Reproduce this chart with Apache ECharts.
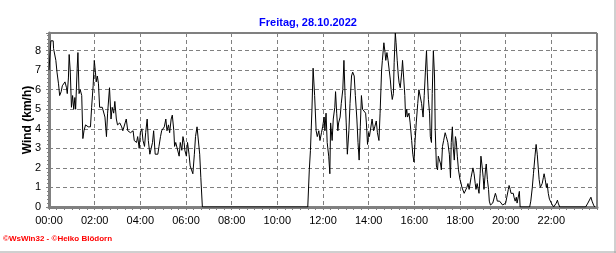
<!DOCTYPE html>
<html>
<head>
<meta charset="utf-8">
<script src="https://cdn.jsdelivr.net/npm/echarts@6/dist/echarts.min.js"></script>
<style>html,body{margin:0;padding:0;background:#fff}#c{width:616px;height:253px}</style>
</head>
<body>
<div id="c"></div>
<script>
// Minutes since midnight and wind speed (km/h)
const minutes = [
0,5,11,12,18,21,25,28,32,35,39,42,46,48,51,53,56,59,62,65,68,70,74,76,79,82,86,89,92,96,100,103,109,112,116,119,122,124,127,130,133,140,144,147,151,154,159,163,166,170,173,177,180,186,191,194,200,203,207,210,214,217,221,224,230,233,237,240,244,247,251,254,258,261,265,268,272,275,279,282,286,289,293,296,300,303,307,310,314,317,321,324,328,330,333,336,338,342,345,349,352,355,357,361,364,368,371,375,378,382,385,389,392,396,399,403,
680,684,687,691,694,696,698,702,705,709,712,716,719,723,725,728,731,735,738,740,744,747,751,753,756,759,761,765,768,772,775,778,781,784,788,791,795,798,802,805,809,812,815,818,821,824,826,829,832,834,837,840,842,846,849,853,856,860,863,867,870,874,876,880,883,885,888,891,894,897,899,902,905,907,910,912,915,918,920,923,927,929,932,935,937,940,942,946,949,953,956,959,962,965,969,972,976,979,983,986,989,992,994,997,1000,1002,1005,1007,1010,1013,1015,1018,1021,1023,1026,1029,1031,1034,1037,1041,1044,1048,
1052,1055,1057,1060,1062,1065,1068,1070,1073,1076,1080,1083,1085,1088,1091,1093,1096,1098,1101,1104,1106,1109,1112,1114,1117,1120,1122,1125,1127,1130,1133,1135,1138,1141,1143,1147,1149,1152,1155,1157,1160,1163,1166,1170,1173,1176,1178,1181,1184,1186,1189,1192,1194,1197,1200,1203,1207,1209,1212,1214,1217,1220,1222,1225,1228,1230,1233,1236,1238,1263,1266,1270,1273,1277,1280,1283,1286,1288,1291,1294,1296,1299,1301,1304,1307,1309,1312,1315,1317,1320,1323,1326,1330,1333,1336,1338,1342,1410,1416,1419,1424,1427,1431,1434
];
const wind = [
7.0,8.5,8.5,8.1,7.5,6.9,6.3,5.7,5.9,6.2,6.3,6.4,6.1,5.8,6.6,7.8,6.9,5.1,5.7,5.0,5.6,5.0,7.1,7.9,5.8,6.0,5.7,3.5,3.9,4.2,4.1,4.1,4.1,5.1,6.2,7.5,6.9,6.4,6.7,6.3,5.1,5.1,5.1,4.6,3.6,4.8,6.1,4.5,5.1,4.8,5.4,4.5,4.2,4.3,4.1,3.9,4.3,4.5,3.9,3.8,3.8,3.9,3.9,3.4,3.3,3.6,3.0,3.8,4.0,3.4,3.1,3.8,4.5,3.4,2.7,2.7,3.3,3.9,2.7,2.6,2.7,3.1,3.6,3.9,3.8,4.1,4.5,3.9,4.2,3.8,4.5,4.7,3.9,3.1,3.3,3.4,3.3,2.6,3.3,2.9,3.6,3.3,2.9,2.6,3.3,2.7,2.1,2.0,1.7,2.7,3.6,4.1,4.0,2.7,1.5,0,
0,1.9,2.9,5.0,7.1,7.0,5.7,3.9,3.6,3.9,3.4,3.8,4.1,4.6,3.9,4.8,3.3,2.6,1.7,4.3,3.4,4.5,5.1,5.9,4.8,3.9,4.3,4.6,5.3,6.0,7.5,5.7,4.3,2.7,3.9,5.3,6.7,6.9,6.7,5.7,4.5,3.3,2.4,4.1,5.7,5.0,5.0,5.1,4.8,4.3,3.2,3.8,3.6,3.6,4.5,3.9,4.1,4.4,3.8,3.4,4.8,7.0,7.5,8.4,7.9,7.5,7.9,7.5,7.0,6.5,6.0,5.5,5.8,7.4,8.9,8.4,7.5,6.7,6.35,6.1,6.9,7.5,6.6,5.7,4.6,5.0,4.6,4.8,4.3,3.4,2.7,2.3,3.4,4.3,5.3,6.0,6.1,5.3,4.6,5.7,6.9,8.0,6.9,5.5,4.8,3.6,3.3,5.8,8.0,6.7,3.9,2.1,1.9,2.6,2.7,2.2,1.9,3.1,3.4,3.8,3.6,3.3,
2.7,1.5,3.3,4.1,3.1,2.4,3.6,3.4,2.6,1.9,1.4,1.2,1.0,0.9,0.7,0.6,0.7,1.0,1.2,0.9,1.0,1.5,1.4,2.0,1.7,1.2,0.9,1.2,1.0,0.7,1.7,2.6,2.1,1.5,0.9,1.9,2.2,1.4,0.9,0.3,0.1,0,0.2,0.3,0.7,0.5,0.3,0.4,0.3,0.4,0.3,0.1,0,0,0.2,0.5,0.9,1.1,0.9,0.7,0.8,0.7,0.5,0.3,0.5,0.2,0.3,0.8,0,0,0.3,1.0,1.7,2.6,3.2,2.7,1.9,1.4,1.0,0.9,1.2,1.5,1.7,1.4,1.0,1.2,0.7,0.4,0.3,0.2,0.1,0,0.1,0.2,0.35,0.2,0,0,0.2,0.3,0.5,0.3,0.1,0
];
const titleText = 'Freitag, 28.10.2022';
const yAxisName = 'Wind (km/h)';
const footerText = '\u00A9WsWin32 - \u00A9Heiko Blödorn';

const pad = n => (n < 10 ? '0' : '') + n;
const fmtTime = v => pad(Math.floor(v / 60)) + ':' + pad(v % 60);
const points = minutes.map((m, i) => [m, wind[i]]);

const chart = echarts.init(document.getElementById('c'), null, {renderer: 'canvas'});
const grey = '#808080';
chart.setOption({
  backgroundColor: '#ffffff',
  animation: false,
  title: {
    text: titleText, left: 'center', top: 12,
    textStyle: {color: '#0000ff', fontFamily: 'Liberation Sans', fontWeight: 'bold', fontSize: 11}
  },
  grid: {left: 49, right: 19, top: 33, bottom: 46, show: true, borderColor: '#000', borderWidth: 1, backgroundColor: 'transparent'},
  xAxis: {
    type: 'value', min: 0, max: 1440, interval: 120,
    axisLine: {show: true, onZero: false, lineStyle: {color: grey, width: 3}},
    axisTick: {show: true, length: 3, lineStyle: {color: grey}},
    minorTick: {show: true, splitNumber: 6, length: 3, lineStyle: {color: grey}},
    axisLabel: {formatter: fmtTime, showMaxLabel: false, color: '#000', fontFamily: 'Liberation Sans', fontSize: 11, margin: 8},
    splitLine: {show: true, lineStyle: {color: grey, type: [4, 3], width: 1}}
  },
  yAxis: {
    type: 'value', min: 0, max: 8.9, interval: 1,
    name: yAxisName, nameLocation: 'middle', nameGap: 15, nameRotate: 90, nameMoveOverlap: false,
    nameTextStyle: {color: '#000', fontFamily: 'Liberation Sans', fontWeight: 'bold', fontSize: 12},
    axisLine: {show: true, lineStyle: {color: grey, width: 3}},
    axisTick: {show: true, length: 3, lineStyle: {color: grey}},
    minorTick: {show: true, splitNumber: 5, length: 2, lineStyle: {color: grey}},
    axisLabel: {showMaxLabel: false, color: '#000', fontFamily: 'Liberation Sans', fontSize: 11, margin: 8},
    splitLine: {show: true, lineStyle: {color: grey, type: [4, 3], width: 1}}
  },
  graphic: [
    {type: 'text', left: 3, top: 235, style: {text: footerText, fill: '#ff0000', font: 'bold 8px "Liberation Sans"'}},
    {type: 'line', shape: {x1: 0, y1: 252, x2: 616, y2: 252}, style: {stroke: '#a0a0a0', lineWidth: 1}},
    {type: 'line', shape: {x1: 615, y1: 0, x2: 615, y2: 253}, style: {stroke: '#a0a0a0', lineWidth: 1}}
  ],
  series: [{
    type: 'line', data: points, showSymbol: false, symbol: 'none',
    lineStyle: {color: '#000', width: 1}, z: 3
  }]
});
</script>
</body>
</html>
